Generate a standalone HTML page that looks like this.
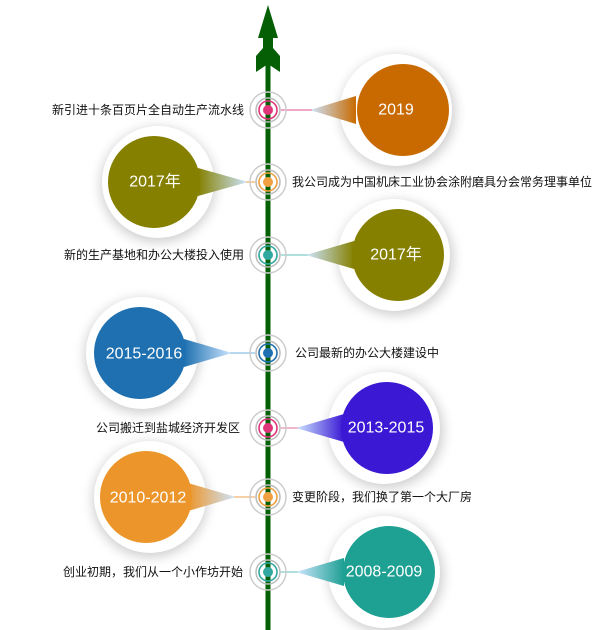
<!DOCTYPE html>
<html><head><meta charset="utf-8"><style>
html,body{margin:0;padding:0;background:#fff;width:610px;height:630px;overflow:hidden}
svg{display:block}
text{font-family:"Liberation Sans","Noto Sans CJK SC",sans-serif}
.lbl{font-size:12px;fill:#111}
.yr{font-size:16px;fill:#fff;text-anchor:middle;dominant-baseline:central}
</style></head><body>
<svg width="610" height="630" viewBox="0 0 610 630" xmlns="http://www.w3.org/2000/svg">
<defs>
<filter id="sh" x="-40%" y="-40%" width="180%" height="180%"><feGaussianBlur stdDeviation="6"/></filter>
<linearGradient id="g1" gradientUnits="userSpaceOnUse" x1="310" y1="0" x2="356" y2="0"><stop offset="0" stop-color="#cde6ff"/><stop offset="1" stop-color="#c96a00"/></linearGradient>
<linearGradient id="g2" gradientUnits="userSpaceOnUse" x1="248" y1="0" x2="198" y2="0"><stop offset="0" stop-color="#cde6ff"/><stop offset="1" stop-color="#858000"/></linearGradient>
<linearGradient id="g3" gradientUnits="userSpaceOnUse" x1="306" y1="0" x2="354" y2="0"><stop offset="0" stop-color="#cde6ff"/><stop offset="1" stop-color="#858000"/></linearGradient>
<linearGradient id="g4" gradientUnits="userSpaceOnUse" x1="232" y1="0" x2="184" y2="0"><stop offset="0" stop-color="#cde6ff"/><stop offset="1" stop-color="#1e70b0"/></linearGradient>
<linearGradient id="g5" gradientUnits="userSpaceOnUse" x1="296" y1="0" x2="344" y2="0"><stop offset="0" stop-color="#cde6ff"/><stop offset="1" stop-color="#3a18d4"/></linearGradient>
<linearGradient id="g6" gradientUnits="userSpaceOnUse" x1="236" y1="0" x2="188" y2="0"><stop offset="0" stop-color="#cde6ff"/><stop offset="1" stop-color="#ec952a"/></linearGradient>
<linearGradient id="g7" gradientUnits="userSpaceOnUse" x1="296" y1="0" x2="344" y2="0"><stop offset="0" stop-color="#cde6ff"/><stop offset="1" stop-color="#1ea093"/></linearGradient>
</defs>

<!-- bubbles -->
<circle cx="398" cy="113" r="57" fill="#000" opacity=".2" filter="url(#sh)"/>
<circle cx="396" cy="110" r="56" fill="#fff"/>
<polygon points="310,110 356,96 356,124" fill="url(#g1)"/>
<circle cx="403" cy="110" r="46" fill="#c96a00"/>
<text class="yr" x="396" y="110">2019</text>
<line x1="278" y1="110" x2="312" y2="110" stroke="#f0a8c8" stroke-width="2"/>

<circle cx="158" cy="185" r="57" fill="#000" opacity=".2" filter="url(#sh)"/>
<circle cx="158" cy="182" r="56" fill="#fff"/>
<polygon points="248,182 198,168 198,196" fill="url(#g2)"/>
<circle cx="154" cy="182" r="46" fill="#858000"/>
<text class="yr" x="155" y="182">2017年</text>
<line x1="246" y1="182" x2="258" y2="182" stroke="#f6cfa0" stroke-width="2"/>

<circle cx="396" cy="258" r="57" fill="#000" opacity=".2" filter="url(#sh)"/>
<circle cx="394" cy="255" r="56" fill="#fff"/>
<polygon points="306,255 354,241 354,269" fill="url(#g3)"/>
<circle cx="398" cy="255" r="46" fill="#858000"/>
<text class="yr" x="396" y="255">2017年</text>
<line x1="278" y1="255" x2="308" y2="255" stroke="#b0e0dc" stroke-width="2"/>

<circle cx="142" cy="356" r="57" fill="#000" opacity=".2" filter="url(#sh)"/>
<circle cx="142" cy="353" r="56" fill="#fff"/>
<polygon points="232,353 184,339 184,367" fill="url(#g4)"/>
<circle cx="140" cy="353" r="46" fill="#1e70b0"/>
<text class="yr" x="144" y="354">2015-2016</text>
<line x1="230" y1="353" x2="258" y2="353" stroke="#b8d8f0" stroke-width="2"/>

<circle cx="386" cy="431" r="57" fill="#000" opacity=".2" filter="url(#sh)"/>
<circle cx="384" cy="428" r="56" fill="#fff"/>
<polygon points="296,428 344,414 344,442" fill="url(#g5)"/>
<circle cx="387" cy="428" r="46" fill="#3a18d4"/>
<text class="yr" x="386" y="428">2013-2015</text>
<line x1="278" y1="428" x2="298" y2="428" stroke="#f0b8cc" stroke-width="2"/>

<circle cx="150" cy="500" r="57" fill="#000" opacity=".2" filter="url(#sh)"/>
<circle cx="150" cy="497" r="56" fill="#fff"/>
<polygon points="236,497 188,483 188,511" fill="url(#g6)"/>
<circle cx="146" cy="497" r="46" fill="#ec952a"/>
<text class="yr" x="148" y="498">2010-2012</text>
<line x1="234" y1="497" x2="258" y2="497" stroke="#f8d0a8" stroke-width="2"/>

<circle cx="386" cy="575" r="57" fill="#000" opacity=".2" filter="url(#sh)"/>
<circle cx="384" cy="572" r="56" fill="#fff"/>
<polygon points="296,572 344,558 344,586" fill="url(#g7)"/>
<circle cx="389" cy="572" r="46" fill="#1ea093"/>
<text class="yr" x="384" y="572">2008-2009</text>
<line x1="278" y1="572" x2="298" y2="572" stroke="#b0e0dc" stroke-width="2"/>

<!-- node backgrounds -->
<g fill="#fff">
<circle cx="268" cy="110" r="13"/><circle cx="268" cy="182" r="13"/><circle cx="268" cy="255" r="13"/><circle cx="268" cy="353" r="13"/><circle cx="268" cy="428" r="13"/><circle cx="268" cy="497" r="13"/><circle cx="268" cy="572" r="13"/>
</g>

<!-- main line -->
<rect x="265.5" y="40" width="5" height="590" fill="#055f05"/>
<polygon points="268,5 278,38 273,38 273,48 280,56 280,72 268,64 256,72 256,56 263,48 263,38 258,38" fill="#055f05"/>

<!-- nodes -->
<g fill="none">
<g transform="translate(268,110)"><circle r="18" stroke="#ccc" stroke-width="1.5"/><circle r="12" stroke="#bbb" stroke-width="1.5"/><circle r="9" stroke="#e0357a" stroke-width="1.6"/><circle r="5" fill="#e0357a"/></g>
<g transform="translate(268,182)"><circle r="18" stroke="#ccc" stroke-width="1.5"/><circle r="12" stroke="#bbb" stroke-width="1.5"/><circle r="9" stroke="#f0a040" stroke-width="1.6"/><circle r="5" fill="#f0a040"/></g>
<g transform="translate(268,255)"><circle r="18" stroke="#ccc" stroke-width="1.5"/><circle r="12" stroke="#bbb" stroke-width="1.5"/><circle r="9" stroke="#30a8a0" stroke-width="1.6"/><circle r="5" fill="#30a8a0"/></g>
<g transform="translate(268,353)"><circle r="18" stroke="#ccc" stroke-width="1.5"/><circle r="12" stroke="#bbb" stroke-width="1.5"/><circle r="9" stroke="#1e70b0" stroke-width="1.6"/><circle r="5" fill="#1e70b0"/></g>
<g transform="translate(268,428)"><circle r="18" stroke="#ccc" stroke-width="1.5"/><circle r="12" stroke="#bbb" stroke-width="1.5"/><circle r="9" stroke="#e0357a" stroke-width="1.6"/><circle r="5" fill="#e0357a"/></g>
<g transform="translate(268,497)"><circle r="18" stroke="#ccc" stroke-width="1.5"/><circle r="12" stroke="#bbb" stroke-width="1.5"/><circle r="9" stroke="#f0a040" stroke-width="1.6"/><circle r="5" fill="#f0a040"/></g>
<g transform="translate(268,572)"><circle r="18" stroke="#ccc" stroke-width="1.5"/><circle r="12" stroke="#bbb" stroke-width="1.5"/><circle r="9" stroke="#30a8a0" stroke-width="1.6"/><circle r="5" fill="#30a8a0"/></g>
</g>

<!-- labels -->
<text class="lbl" x="244" y="114" text-anchor="end">新引进十条百页片全自动生产流水线</text>
<text class="lbl" x="292" y="186">我公司成为中国机床工业协会涂附磨具分会常务理事单位</text>
<text class="lbl" x="244" y="259" text-anchor="end">新的生产基地和办公大楼投入使用</text>
<text class="lbl" x="295" y="357">公司最新的办公大楼建设中</text>
<text class="lbl" x="240" y="432" text-anchor="end">公司搬迁到盐城经济开发区</text>
<text class="lbl" x="292" y="501">变更阶段，我们换了第一个大厂房</text>
<text class="lbl" x="243" y="576" text-anchor="end">创业初期，我们从一个小作坊开始</text>
</svg>
</body></html>
